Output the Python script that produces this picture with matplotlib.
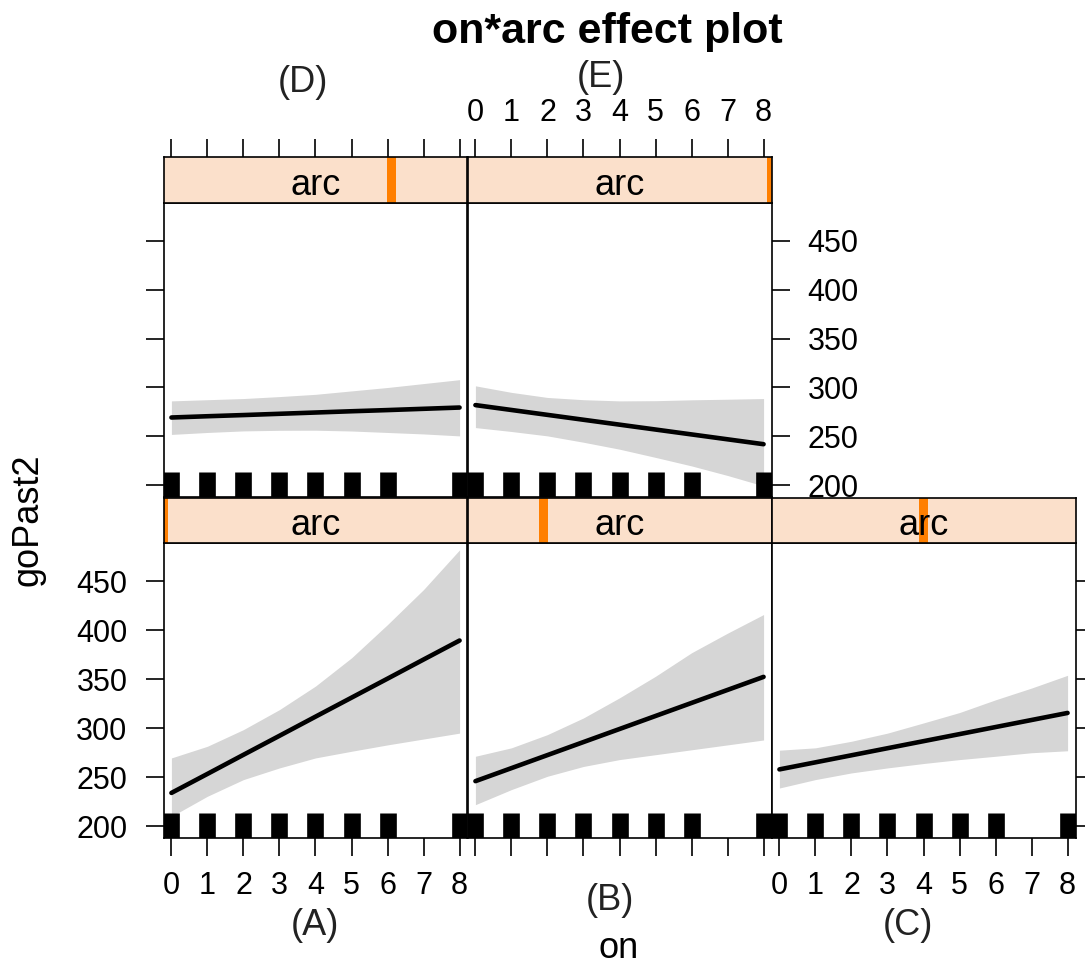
import numpy as np
import matplotlib.pyplot as plt
from matplotlib.patches import Rectangle

plt.rcParams['font.family'] = ['Liberation Sans', 'DejaVu Sans']

# values of 'on' where the effect was evaluated
on_vals = [0, 1, 2, 3, 4, 5, 6, 7, 8]
# observed 'on' values (rug)
on_obs = [0, 1, 2, 3, 4, 5, 6, 8]

panel_names = ['(A)', '(B)', '(C)', '(D)', '(E)']
# where the arc level sits in its range (shown as the orange bar in the strip)
arc_pos = [0.0, 0.25, 0.5, 0.75, 1.0]

# fitted goPast2 and confidence band per panel
fit_A = [234, 253.4, 272.9, 292.3, 311.8, 331.2, 350.6, 370.1, 389.5]
upper_A = [269.7, 281.6, 298.6, 319, 343, 371.8, 405.8, 441.5, 482]
lower_A = [210, 230.6, 247.6, 259.5, 269.7, 276.5, 283, 289, 295]

fit_B = [246, 259.3, 272.6, 285.9, 299.2, 312.5, 325.8, 339.1, 352.4]
upper_B = [271.4, 280, 293.5, 310.5, 331, 353, 377, 397, 416]
lower_B = [222, 237.4, 251, 261, 268, 273, 278, 283, 288]

fit_C = [258, 265.2, 272.4, 279.6, 286.8, 294, 301.2, 308.4, 315.6]
upper_C = [277.6, 280, 286.7, 295, 305.4, 316, 329, 341, 354]
lower_C = [239, 247.6, 254.4, 259.5, 264, 268, 271.4, 275, 277]

fit_D = [269.3, 270.6, 271.8, 273.1, 274.4, 275.7, 276.9, 278.2, 279.5]
upper_D = [286.3, 287.5, 288.7, 290.7, 293, 296.5, 300, 304, 308]
lower_D = [252, 254, 255.6, 256.2, 256.3, 255.5, 254, 252.5, 250.5]

fit_E = [282, 277, 272, 267, 262, 257, 252, 247, 242]
upper_E = [301.7, 295, 289.8, 287.5, 286.3, 286.5, 287.4, 288, 288.7]
lower_E = [259, 255, 250.5, 244, 236.9, 228.5, 219.8, 210, 199.3]

fits = [fit_A, fit_B, fit_C, fit_D, fit_E]
uppers = [upper_A, upper_B, upper_C, upper_D, upper_E]
lowers = [lower_A, lower_B, lower_C, lower_D, lower_E]

x_ticks = [0, 1, 2, 3, 4, 5, 6, 7, 8]
y_ticks = [200, 250, 300, 350, 400, 450]

W, H = 1085, 967
fig = plt.figure(figsize=(W / 100, H / 100), dpi=100)


def rect(x0, y0, x1, y1):
    # pixel box (top-left origin) -> figure fraction
    return [x0 / W, 1 - y1 / H, (x1 - x0) / W, (y1 - y0) / H]


col_x = [163.5, 467.5, 771.5]
col_w = 304
# strip top, strip bottom / panel top, panel bottom
rows = {'bottom': (498, 543, 838), 'top': (157.3, 202.7, 497)}
layout = [(0, 'bottom'), (1, 'bottom'), (2, 'bottom'), (0, 'top'), (1, 'top')]

# which sides get ticks / labels: (left, labelleft, bottom, labelbottom, right, labelright, top, labeltop)
sides = [
    (True, True, True, True, False, False, False, False),     # A
    (False, False, True, False, False, False, False, False),  # B
    (False, False, True, True, True, False, False, False),    # C
    (True, False, False, False, False, False, True, False),   # D
    (False, False, False, False, True, True, True, True),     # E
]

band_color = '#D6D6D6'
strip_color = '#FBE0CB'
bar_color = '#FF7F00'
lw_frame = 1.2

for i, (c, r) in enumerate(layout):
    s_top, p_top, p_bot = rows[r]
    x0 = col_x[c]
    ax = fig.add_axes(rect(x0, p_top, x0 + col_w, p_bot), zorder=1)
    ax.fill_between(on_vals, lowers[i], uppers[i], color=band_color, lw=0)
    ax.plot(on_vals, fits[i], color='black', lw=3.3, solid_capstyle='round')
    ax.vlines(on_obs, 0, 0.085, transform=ax.get_xaxis_transform(), colors='black', lw=12)
    ax.set_xlim(-0.22, 8.22)
    ax.set_ylim(188, 489)
    ax.set_xticks(x_ticks)
    ax.set_yticks(y_ticks)
    for sp in ax.spines.values():
        sp.set_linewidth(lw_frame)
    left, lleft, bottom, lbottom, right, lright, top, ltop = sides[i]
    ax.tick_params(axis='both', direction='out', length=13, width=lw_frame, labelsize=22)
    ax.tick_params(axis='y', left=left, labelleft=lleft, right=right, labelright=lright, pad=13)
    ax.tick_params(axis='x', bottom=bottom, labelbottom=lbottom, top=False, labeltop=False, pad=11)

    # strip
    sax = fig.add_axes(rect(x0, s_top, x0 + col_w, p_top), zorder=2)
    sax.set_facecolor(strip_color)
    sax.set_xlim(-0.22, 8.22)
    sax.set_ylim(0, 1)
    sax.set_yticks([])
    sax.set_xticks(x_ticks)
    for sp in sax.spines.values():
        sp.set_linewidth(lw_frame)
    sax.tick_params(axis='x', direction='out', length=13, width=lw_frame, labelsize=22,
                    bottom=False, labelbottom=False, top=top, labeltop=ltop, pad=8)
    sax.add_patch(Rectangle((arc_pos[i] - 0.016, 0), 0.032, 1, transform=sax.transAxes,
                            color=bar_color, lw=0, zorder=1))
    sax.text(0.5, 0.18, 'arc', transform=sax.transAxes, ha='center', va='baseline',
             fontsize=26, zorder=3)

# panel letters
letter_pos = {'(A)': (315, 935), '(B)': (610, 910), '(C)': (908, 935),
              '(D)': (303, 92), '(E)': (601, 87)}
for name in panel_names:
    px, py = letter_pos[name]
    fig.text(px / W, 1 - py / H, name, ha='center', va='baseline', fontsize=26, color='#222222')

fig.text(607 / W, 1 - 43 / H, 'on*arc effect plot', ha='center', va='baseline',
         fontsize=31, fontweight='bold')
fig.text(619 / W, 1 - 958 / H, 'on', ha='center', va='baseline', fontsize=26)
fig.text(28 / W, 1 - 520 / H, 'goPast2', ha='center', va='center', rotation=90, fontsize=26)

fig.savefig('out.png', dpi=100)
